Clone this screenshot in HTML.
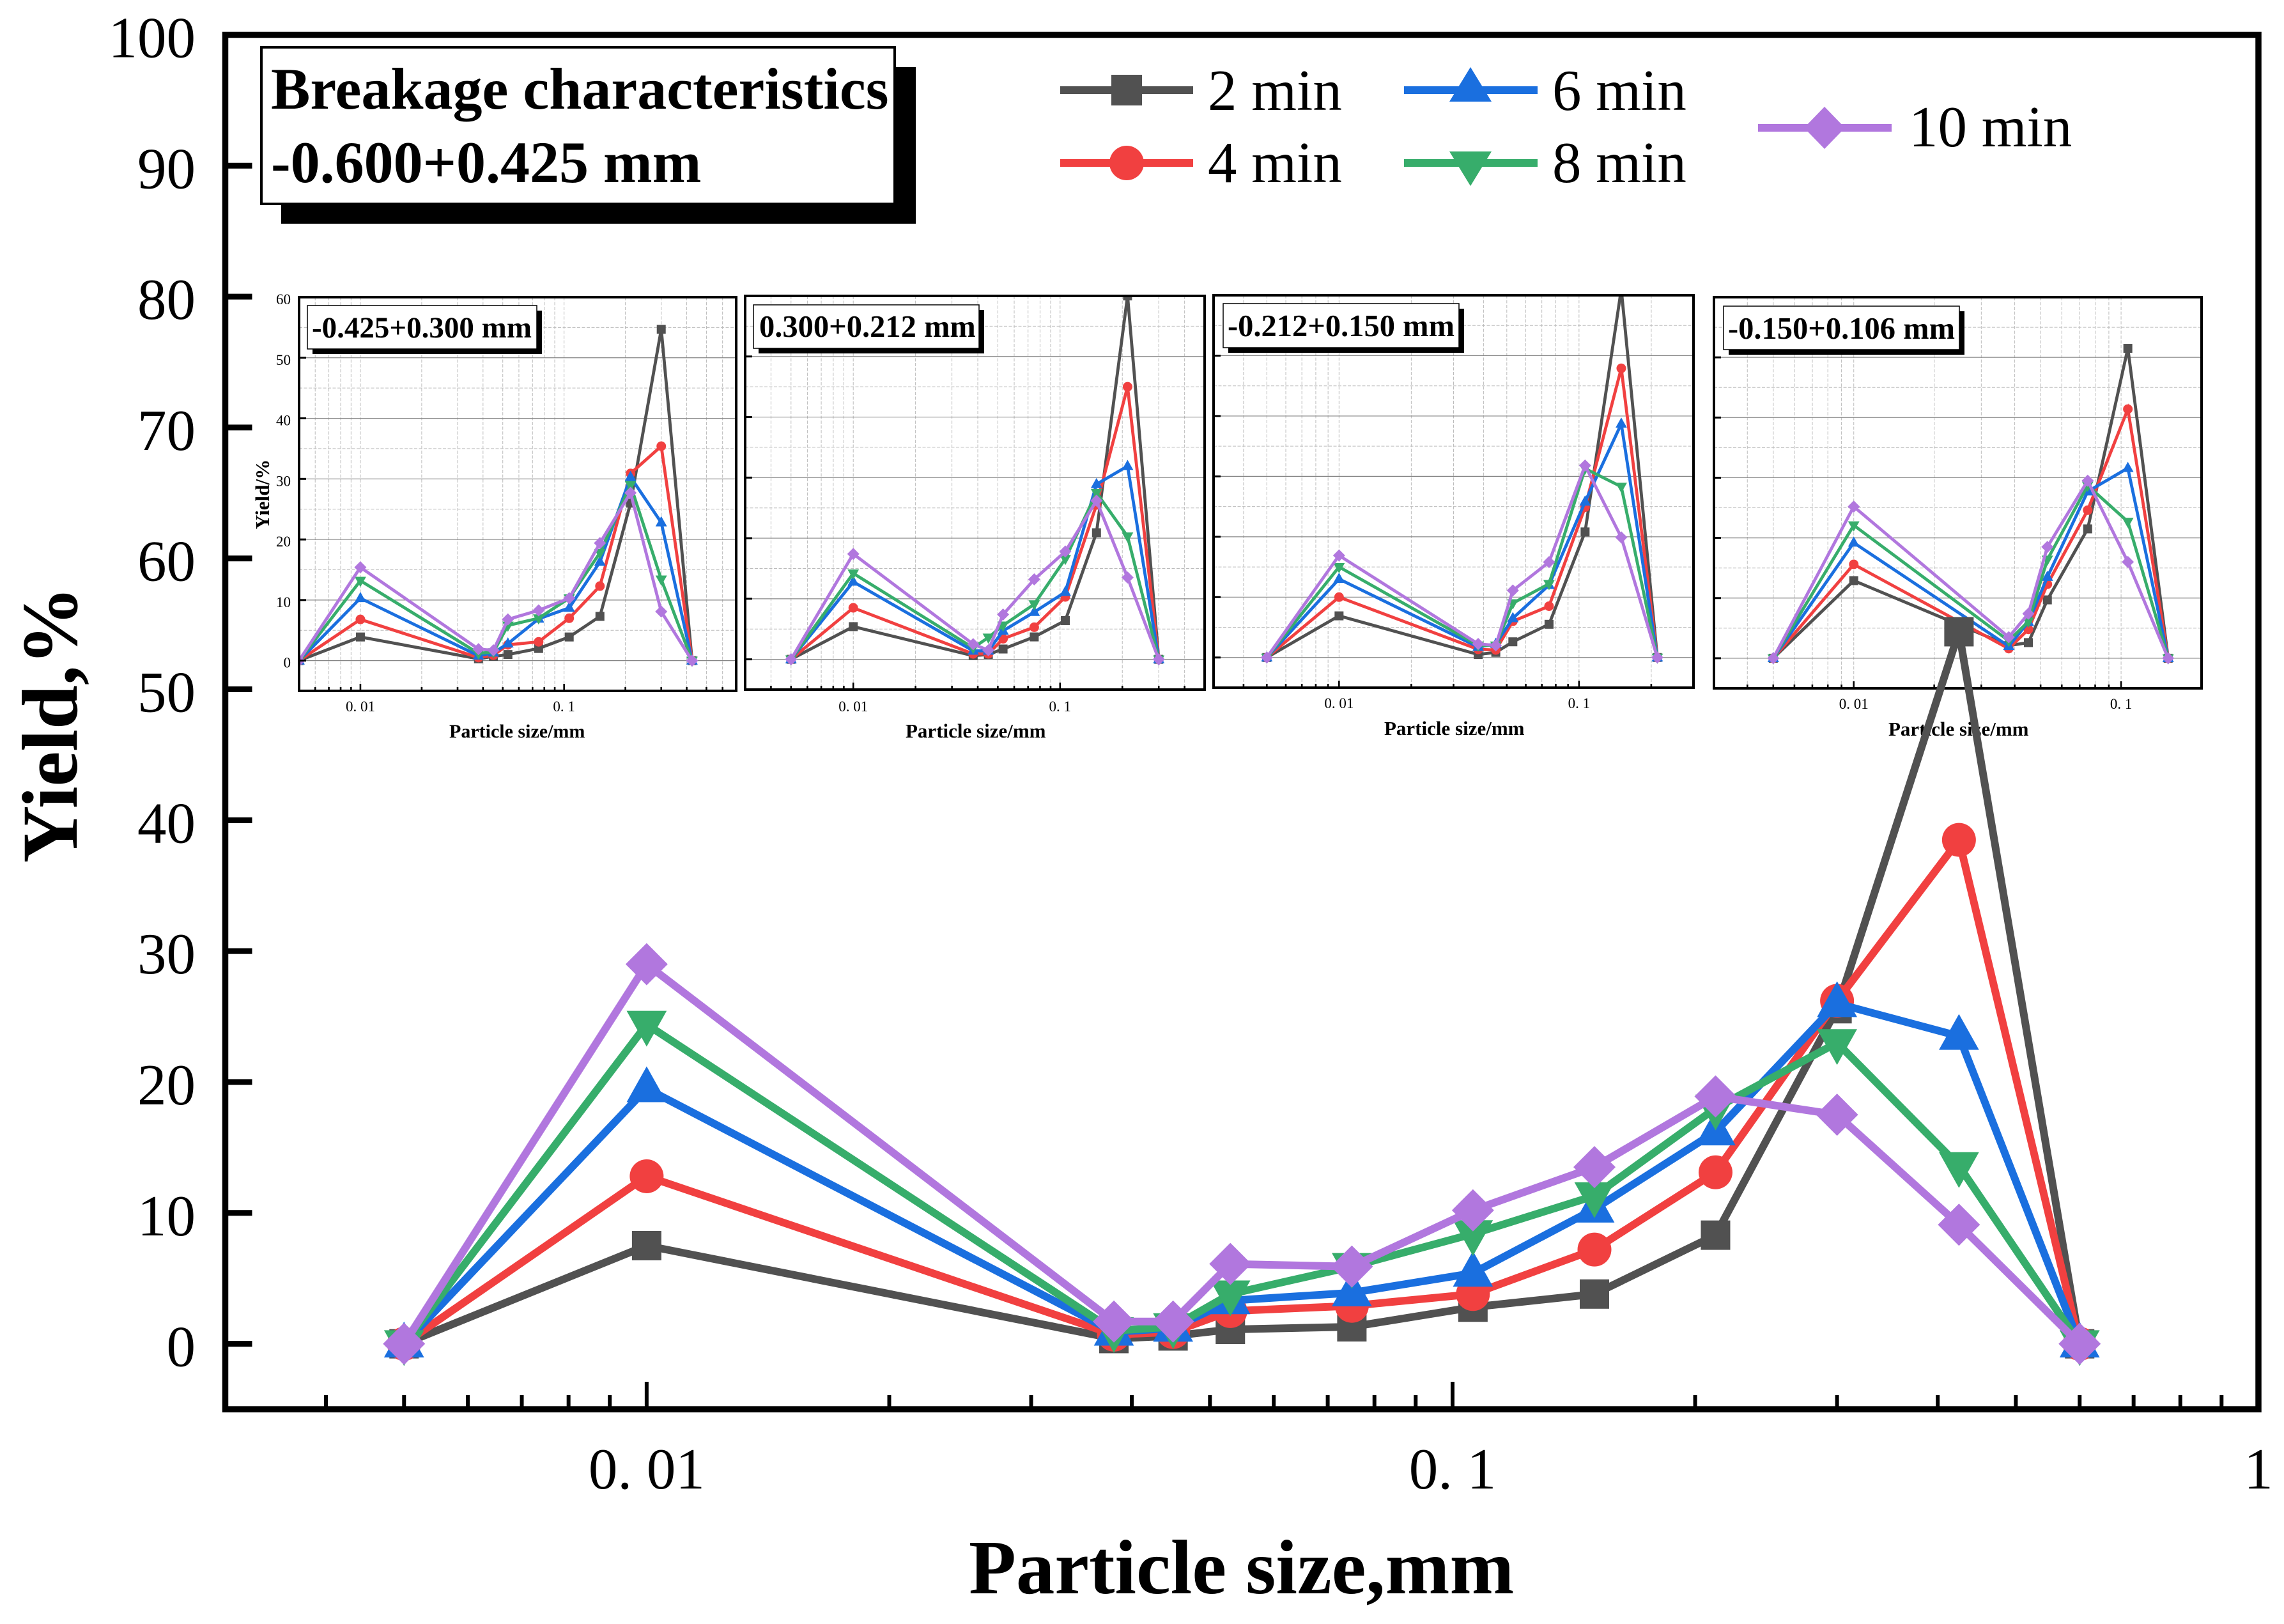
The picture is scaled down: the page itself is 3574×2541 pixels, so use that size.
<!DOCTYPE html>
<html lang="en">
<head>
<meta charset="utf-8">
<title>Breakage characteristics</title>
<style>
  html, body { margin: 0; padding: 0; background: #fff; }
  svg { display: block; }
  text { font-family: "Liberation Serif", "Noto Serif CJK SC", serif; fill: #000; }
  .b { font-weight: bold; }
</style>
</head>
<body>
<svg id="figure" xmlns="http://www.w3.org/2000/svg" width="3574" height="2541" viewBox="0 0 3574 2541">
  <rect x="0" y="0" width="3574" height="2541" fill="#fff"/>

  <g id="inset-1">
    <g id="inset-1-plot"></g>
    <g>
      <rect x="489" y="486" width="359" height="68" fill="#000"/>
      <rect x="481" y="478" width="359" height="68" fill="#fff" stroke="#000" stroke-width="1.5"/>
      <text class="b" x="488" y="528" font-size="47">-0.425+0.300 mm</text>
    </g>
    <text class="b" x="703" y="1154" font-size="30">Particle size/mm</text>
    <text class="b" x="0" y="0" font-size="31" transform="translate(421 828) rotate(-90)">Yield/%</text>
  </g>

  <g id="inset-2">
    <g id="inset-2-plot"></g>
    <g>
      <rect x="1187" y="485" width="353" height="68" fill="#000"/>
      <rect x="1179" y="477" width="353" height="68" fill="#fff" stroke="#000" stroke-width="1.5"/>
      <text class="b" x="1188" y="527" font-size="48.5">0.300+0.212 mm</text>
    </g>
    <text class="b" x="1417" y="1154" font-size="31">Particle size/mm</text>
  </g>

  <g id="inset-3">
    <g id="inset-3-plot"></g>
    <g>
      <rect x="1922" y="483" width="369" height="69" fill="#000"/>
      <rect x="1914" y="475" width="369" height="69" fill="#fff" stroke="#000" stroke-width="1.5"/>
      <text class="b" x="1921" y="526" font-size="48.5">-0.212+0.150 mm</text>
    </g>
    <text class="b" x="2166" y="1150" font-size="31">Particle size/mm</text>
  </g>

  <g id="inset-4">
    <g id="inset-4-plot"></g>
    <g>
      <rect x="2705" y="487" width="369" height="68" fill="#000"/>
      <rect x="2697" y="479" width="369" height="68" fill="#fff" stroke="#000" stroke-width="1.5"/>
      <text class="b" x="2704" y="530" font-size="48.5">-0.150+0.106 mm</text>
    </g>
    <text class="b" x="2955" y="1151" font-size="31">Particle size/mm</text>
  </g>

  <g id="main-plot"></g>

  <text class="b" x="1516" y="2493" font-size="121">Particle size,mm</text>
  <text class="b" x="0" y="0" font-size="124" transform="translate(120 1350) rotate(-90)">Yield,%</text>

  <g>
    <rect x="440" y="105" width="993" height="245" fill="#000"/>
    <rect x="409" y="74" width="991" height="245" fill="#fff" stroke="#000" stroke-width="4"/>
    <text class="b" x="424" y="170" font-size="92">Breakage characteristics</text>
    <text class="b" x="424" y="285" font-size="92">-0.600+0.425 mm</text>
  </g>

  <g>
    <g>
      <line x1="1659" y1="141" x2="1867" y2="141" stroke="#515151" stroke-width="12"/>
      <rect x="1739" y="117" width="48" height="48" fill="#515151"/>
      <text x="1890" y="172" font-size="91">2 min</text>
    </g>
    <g>
      <line x1="1659" y1="255" x2="1867" y2="255" stroke="#F14040" stroke-width="12"/>
      <circle cx="1763" cy="255" r="27" fill="#F14040"/>
      <text x="1890" y="285" font-size="91">4 min</text>
    </g>
    <g>
      <line x1="2197" y1="141" x2="2406" y2="141" stroke="#1A6FDF" stroke-width="12"/>
      <polygon points="2301,105 2334,159 2268,159" fill="#1A6FDF"/>
      <text x="2429" y="172" font-size="91">6 min</text>
    </g>
    <g>
      <line x1="2197" y1="255" x2="2406" y2="255" stroke="#37AD6B" stroke-width="12"/>
      <polygon points="2301,291 2334,237 2268,237" fill="#37AD6B"/>
      <text x="2429" y="285" font-size="91">8 min</text>
    </g>
    <g>
      <line x1="2751" y1="200" x2="2960" y2="200" stroke="#B177DE" stroke-width="12"/>
      <polygon points="2855,167 2887,200 2855,233 2823,200" fill="#B177DE"/>
      <text x="2987" y="229" font-size="91">10 min</text>
    </g>
  </g>
</svg>

<script>
// ---------- data ----------
const mainSizes = [0.005, 0.01, 0.038, 0.045, 0.053, 0.075, 0.106, 0.15, 0.212, 0.3, 0.425, 0.6];
const mainMin2  = [0, 7.5, 0.4, 0.6, 1.1, 1.3, 2.8, 3.8, 8.3, 25.6, 54.4, 0];
const mainMin4  = [0, 12.8, 0.7, 0.9, 2.5, 2.9, 3.8, 7.2, 13.1, 26.2, 38.5, 0];
const mainMin6  = [0, 19.5, 0.9, 1.2, 3.3, 3.9, 5.4, 10.3, 16.2, 26.0, 23.5, 0];
const mainMin8  = [0, 24.4, 1.0, 1.3, 3.8, 5.9, 8.4, 11.3, 18.0, 23.0, 13.6, 0];
const mainMin10 = [0, 29.0, 1.7, 1.7, 6.1, 5.9, 10.2, 13.5, 18.9, 17.5, 9.1, 0];

const inset1Sizes = [0.005, 0.01, 0.038, 0.045, 0.053, 0.075, 0.106, 0.15, 0.212, 0.3, 0.425];
const inset1Min2  = [0, 3.9, 0.3, 0.7, 1.0, 2.0, 3.9, 7.3, 26.0, 54.7, 0];
const inset1Min4  = [0, 6.8, 0.5, 0.9, 2.6, 3.1, 7.0, 12.3, 30.9, 35.4, 0];
const inset1Min6  = [0, 10.3, 0.8, 1.3, 2.8, 6.9, 8.7, 16.3, 30.3, 22.8, 0];
const inset1Min8  = [0, 13.2, 1.2, 1.4, 5.8, 7.0, 10.3, 17.8, 29.0, 13.4, 0];
const inset1Min10 = [0, 15.4, 1.9, 1.7, 6.8, 8.3, 10.3, 19.4, 27.7, 8.1, 0];

const inset2Sizes = [0.005, 0.01, 0.038, 0.045, 0.053, 0.075, 0.106, 0.15, 0.212, 0.3];
const inset2Min2  = [0, 5.4, 0.6, 0.8, 1.7, 3.7, 6.4, 20.9, 60.0, 0];
const inset2Min4  = [0, 8.5, 0.9, 0.9, 3.4, 5.3, 10.3, 25.5, 45.0, 0];
const inset2Min6  = [0, 12.8, 1.4, 1.4, 4.7, 7.8, 11.1, 28.9, 31.9, 0];
const inset2Min8  = [0, 14.2, 1.9, 3.6, 5.6, 9.1, 16.6, 27.5, 20.3, 0];
const inset2Min10 = [0, 17.4, 2.5, 1.5, 7.4, 13.2, 17.8, 26.2, 13.5, 0];

const inset3Sizes = [0.005, 0.01, 0.038, 0.045, 0.053, 0.075, 0.106, 0.15, 0.212];
const inset3Min2  = [0, 6.9, 0.5, 0.85, 2.6, 5.5, 20.8, 61.0, 0];
const inset3Min4  = [0, 10.0, 1.35, 1.25, 6.0, 8.5, 24.9, 47.9, 0];
const inset3Min6  = [0, 13.0, 1.75, 2.25, 6.5, 12.0, 25.8, 38.7, 0];
const inset3Min8  = [0, 15.0, 2.0, 2.0, 9.0, 12.2, 31.3, 28.3, 0];
const inset3Min10 = [0, 16.9, 2.25, 2.0, 11.1, 15.8, 31.8, 19.9, 0];

const inset4Sizes = [0.005, 0.01, 0.038, 0.045, 0.053, 0.075, 0.106, 0.15];
const inset4Min2  = [0, 12.9, 2.1, 2.6, 9.7, 21.5, 51.5, 0];
const inset4Min4  = [0, 15.6, 1.6, 4.8, 12.3, 24.6, 41.4, 0];
const inset4Min6  = [0, 19.2, 2.0, 6.0, 13.5, 27.7, 31.6, 0];
const inset4Min8  = [0, 22.1, 2.9, 6.1, 16.4, 28.7, 22.7, 0];
const inset4Min10 = [0, 25.2, 3.5, 7.4, 18.5, 29.5, 16.0, 0];

const mainYTicks = [0, 10, 20, 30, 40, 50, 60, 70, 80, 90, 100];
const mainYTickLabels = ['0', '10', '20', '30', '40', '50', '60', '70', '80', '90', '100'];
const mainXTicks = [0.01, 0.1, 1];
const mainXTickLabels = ['0. 01', '0. 1', '1'];
const insetYTicks = [0, 10, 20, 30, 40, 50, 60];
const insetYTickLabels = ['0', '10', '20', '30', '40', '50', '60'];
const insetXTicks = [0.01, 0.1];
const insetXTickLabels = ['0. 01', '0. 1'];
const insetMinorYGrid = [5, 15, 25, 35, 45, 55];

// ---------- drawing ----------
const NS = 'http://www.w3.org/2000/svg';
const COLORS = { 2: '#515151', 4: '#F14040', 6: '#1A6FDF', 8: '#37AD6B', 10: '#B177DE' };
const KINDS = { 2: 'square', 4: 'circle', 6: 'up', 8: 'down', 10: 'diamond' };

function make(tag, attrs, parent) {
  const node = document.createElementNS(NS, tag);
  for (const k in attrs) node.setAttribute(k, attrs[k]);
  parent.appendChild(node);
  return node;
}

function xScale(cfg, v) {
  const a = Math.log10(cfg.xMin), b = Math.log10(cfg.xMax);
  return cfg.left + (Math.log10(v) - a) / (b - a) * (cfg.right - cfg.left);
}
function yScale(cfg, v) {
  return cfg.bottom - (v - cfg.yMin) / (cfg.yMax - cfg.yMin) * (cfg.bottom - cfg.top);
}

function logPositions(cfg) {
  const out = [];
  for (let k = -3; k <= 0; k++) {
    for (let m = 1; m <= 9; m++) {
      const v = m * Math.pow(10, k);
      if (v > cfg.xMin * 1.0001 && v < cfg.xMax * 0.9999) out.push({ v: v, major: m === 1 });
    }
  }
  return out;
}

function drawMarker(parent, kind, cx, cy, s, color) {
  let m;
  if (kind === 'square') {
    m = make('rect', { x: cx - s.square / 2, y: cy - s.square / 2, width: s.square, height: s.square, fill: color }, parent);
  } else if (kind === 'circle') {
    m = make('circle', { cx: cx, cy: cy, r: s.circle / 2, fill: color }, parent);
  } else if (kind === 'up') {
    const h = s.tri;
    m = make('polygon', { points: [cx, cy - h * 0.62, cx + h * 0.56, cy + h * 0.38, cx - h * 0.56, cy + h * 0.38].join(' '), fill: color }, parent);
  } else if (kind === 'down') {
    const h = s.tri;
    m = make('polygon', { points: [cx, cy + h * 0.62, cx + h * 0.56, cy - h * 0.38, cx - h * 0.56, cy - h * 0.38].join(' '), fill: color }, parent);
  } else {
    const d = s.diamond / 2;
    m = make('polygon', { points: [cx, cy - d, cx + d, cy, cx, cy + d, cx - d, cy].join(' '), fill: color }, parent);
  }
  
  
}

function drawSeries(parent, cfg, sizes, values, minutes) {
  const g = make('g', {}, parent);
  
  
  const pts = sizes.map(function (sz, i) { return xScale(cfg, sz) + ',' + yScale(cfg, values[i]); }).join(' ');
  const line = make('polyline', { points: pts, fill: 'none', stroke: COLORS[minutes], 'stroke-width': cfg.lineWidth, 'stroke-linejoin': 'miter', 'stroke-miterlimit': 4 }, g);
  
  
  sizes.forEach(function (sz, i) {
    drawMarker(g, KINDS[minutes], xScale(cfg, sz), yScale(cfg, values[i]), cfg.marker, COLORS[minutes]);
  });
}

function drawGrid(parent, cfg) {
  const g = make('g', {}, parent);
  
  
  logPositions(cfg).forEach(function (p) {
    const x = xScale(cfg, p.v);
    const gl = make('line', { x1: x, y1: cfg.top, x2: x, y2: cfg.bottom, stroke: '#bcbcbc', 'stroke-width': 1, 'stroke-dasharray': '5 2.5' }, g);
    
    
  });
  insetMinorYGrid.forEach(function (v) {
    const y = yScale(cfg, v);
    const gl = make('line', { x1: cfg.left, y1: y, x2: cfg.right, y2: y, stroke: '#bcbcbc', 'stroke-width': 1, 'stroke-dasharray': '5 2.5' }, g);
    
    
  });
  insetYTicks.forEach(function (v) {
    const y = yScale(cfg, v);
    const gl = make('line', { x1: cfg.left, y1: y, x2: cfg.right, y2: y, stroke: '#858585', 'stroke-width': 1.2 }, g);
    
    
  });
}

function drawAxes(parent, cfg, yTicks, yLabels, xTicks, xLabels) {
  const g = make('g', {}, parent);
  
  

  logPositions(cfg).forEach(function (p) {
    const x = xScale(cfg, p.v);
    const len = p.major ? cfg.xMajorLen : cfg.xMinorLen;
    const t = make('line', { x1: x, y1: cfg.bottom, x2: x, y2: cfg.bottom - len, stroke: '#000', 'stroke-width': cfg.xTickWidth }, g);
    
    
  });

  yTicks.forEach(function (v, i) {
    const y = yScale(cfg, v);
    const t = make('line', { x1: cfg.left, y1: y, x2: cfg.left + cfg.yTickLen, y2: y, stroke: '#000', 'stroke-width': cfg.yTickWidth }, g);
    
    
    if (cfg.showYLabels) {
      const lab = make('text', { x: cfg.yLabelX, y: y + cfg.yLabelDy, 'font-size': cfg.tickFont, 'text-anchor': 'end' }, g);
      lab.textContent = yLabels[i];
      
      
    }
  });

  xTicks.forEach(function (v, i) {
    const lab = make('text', { x: xScale(cfg, v), y: cfg.xLabelY, 'font-size': cfg.tickFont, 'text-anchor': 'middle', 'xml:space': 'preserve' }, g);
    lab.textContent = xLabels[i];
    
    
  });

  const frame = make('rect', { x: cfg.left, y: cfg.top, width: cfg.right - cfg.left, height: cfg.bottom - cfg.top, fill: 'none', stroke: '#000', 'stroke-width': cfg.frameWidth }, g);
  
  
}

function drawInset(id, cfg, sizes, min2, min4, min6, min8, min10) {
  const host = document.getElementById(id);
  const clipId = id + '-clip';
  const defs = make('defs', {}, host);
  const clip = make('clipPath', { id: clipId }, defs);
  make('rect', { x: cfg.left, y: cfg.top, width: cfg.right - cfg.left, height: cfg.bottom - cfg.top }, clip);
  drawGrid(host, cfg);
  const body = make('g', { 'clip-path': 'url(#' + clipId + ')' }, host);
  
  
  drawSeries(body, cfg, sizes, min2, 2);
  drawSeries(body, cfg, sizes, min4, 4);
  drawSeries(body, cfg, sizes, min6, 6);
  drawSeries(body, cfg, sizes, min8, 8);
  drawSeries(body, cfg, sizes, min10, 10);
  drawAxes(host, cfg, insetYTicks, insetYTickLabels, insetXTicks, insetXTickLabels);
}

const insetStyle = {
  yMin: -5, yMax: 60, lineWidth: 4.8, frameWidth: 4,
  marker: { square: 14, circle: 15, tri: 16, diamond: 19 },
  xMajorLen: 11, xMinorLen: 6, xTickWidth: 2.6, yTickLen: 11, yTickWidth: 3,
  tickFont: 23
};

drawInset('inset-1-plot', Object.assign({}, insetStyle, { left: 468, right: 1152, top: 465, bottom: 1081, xMin: 0.005, xMax: 0.7, xLabelY: 1113, showYLabels: true, yLabelX: 455, yLabelDy: 11 }),
  inset1Sizes, inset1Min2, inset1Min4, inset1Min6, inset1Min8, inset1Min10);
drawInset('inset-2-plot', Object.assign({}, insetStyle, { left: 1166, right: 1885, top: 463, bottom: 1079, xMin: 0.003, xMax: 0.5, xLabelY: 1113, showYLabels: false }),
  inset2Sizes, inset2Min2, inset2Min4, inset2Min6, inset2Min8, inset2Min10);
drawInset('inset-3-plot', Object.assign({}, insetStyle, { left: 1899, right: 2650, top: 462, bottom: 1076, xMin: 0.003, xMax: 0.3, xLabelY: 1108, showYLabels: false }),
  inset3Sizes, inset3Min2, inset3Min4, inset3Min6, inset3Min8, inset3Min10);
drawInset('inset-4-plot', Object.assign({}, insetStyle, { left: 2682, right: 3445, top: 465, bottom: 1077, xMin: 0.003, xMax: 0.2, xLabelY: 1109, showYLabels: false }),
  inset4Sizes, inset4Min2, inset4Min4, inset4Min6, inset4Min8, inset4Min10);

const mainCfg = {
  left: 352.5, right: 3534, top: 54.5, bottom: 2205, xMin: 0.003, xMax: 1, yMin: -5, yMax: 100,
  lineWidth: 12, frameWidth: 9.5,
  marker: { square: 46, circle: 53, tri: 56, diamond: 66 },
  xMajorLen: 43, xMinorLen: 22, xTickWidth: 6, yTickLen: 42, yTickWidth: 9,
  tickFont: 91, xLabelY: 2329, showYLabels: true, yLabelX: 306, yLabelDy: 35
};
const mainHost = document.getElementById('main-plot');
drawSeries(mainHost, mainCfg, mainSizes, mainMin2, 2);
drawSeries(mainHost, mainCfg, mainSizes, mainMin4, 4);
drawSeries(mainHost, mainCfg, mainSizes, mainMin6, 6);
drawSeries(mainHost, mainCfg, mainSizes, mainMin8, 8);
drawSeries(mainHost, mainCfg, mainSizes, mainMin10, 10);
drawAxes(mainHost, mainCfg, mainYTicks, mainYTickLabels, mainXTicks, mainXTickLabels);
</script>
</body>
</html>
